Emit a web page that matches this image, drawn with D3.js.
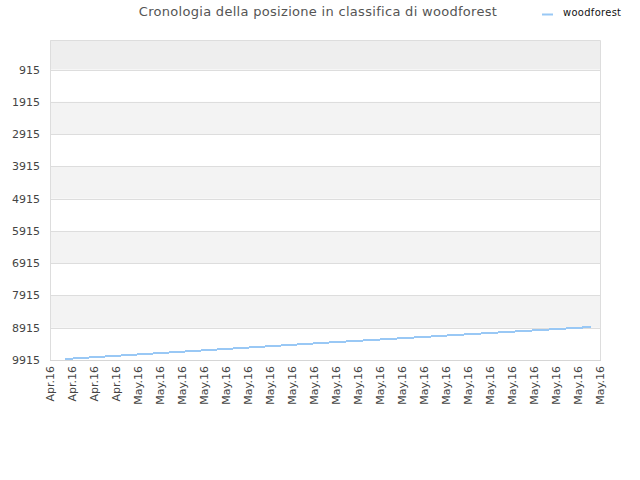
<!DOCTYPE html>
<html><head><meta charset="utf-8">
<script src="https://cdn.jsdelivr.net/npm/d3@7"></script>
<style>
body{margin:0;background:#fff;}
svg{display:block;font-family:"DejaVu Sans",sans-serif;}
</style></head>
<body><svg id="c" width="640" height="480"></svg>
<script>
const title = "Cronologia della posizione in classifica di woodforest";
const seriesName = "woodforest";
const xTickLabels = ["Apr.16","Apr.16","Apr.16","Apr.16",
  "May.16","May.16","May.16","May.16","May.16","May.16","May.16","May.16","May.16","May.16","May.16",
  "May.16","May.16","May.16","May.16","May.16","May.16","May.16","May.16","May.16","May.16","May.16"];
const yTickValues = [915,1915,2915,3915,4915,5915,6915,7915,8915,9915];
// series: position along the x axis (in tick intervals) and rank
const pointX = [0.68, 12.32, 24.59];
const pointRank = [9884, 9388, 8893];

const svg = d3.select("#c");
const L = 50, R = 600, T = 40, B = 360;
const x = d3.scaleLinear().domain([0, xTickLabels.length - 1]).range([L, R]);
const y = d3.scaleLinear().domain([1, 9915]).range([T, B]);

// bands
const bandEdges = [1].concat(yTickValues);
for (let i = 0; i < bandEdges.length - 1; i++) {
  let fill = null;
  if (i === 0) fill = "#eeeeee";
  else if (i % 2 === 0) fill = "#f3f3f3";
  if (fill) svg.append("rect").attr("x", L).attr("width", R - L)
    .attr("y", y(bandEdges[i])).attr("height", y(bandEdges[i + 1]) - y(bandEdges[i]))
    .attr("fill", fill);
}
// gridlines
svg.append("g").selectAll("line").data(yTickValues).join("line")
  .attr("x1", L).attr("x2", R)
  .attr("y1", d => Math.round(y(d)) + 0.5).attr("y2", d => Math.round(y(d)) + 0.5)
  .attr("stroke", "#dddddd").attr("stroke-width", 1);
// border
svg.append("path").attr("d", `M${L+0.5},${B}V${T+0.5}H${R+0.5}V${B}`)
  .attr("fill", "none").attr("stroke", "#dddddd");

// y axis
const yAxis = d3.axisLeft(y).tickValues(yTickValues).tickSize(0).tickPadding(10).tickFormat(d3.format("d"));
const gy = svg.append("g").attr("transform", `translate(${L},0)`).call(yAxis);
gy.select(".domain").remove();
gy.selectAll("text").attr("font-size", 11).attr("fill", "#444").attr("font-family", "DejaVu Sans, sans-serif");

// x axis
const xAxis = d3.axisBottom(x).tickValues(d3.range(xTickLabels.length)).tickSize(0)
  .tickFormat(i => xTickLabels[i]);
const gx = svg.append("g").attr("transform", `translate(0,${B})`).call(xAxis);
gx.select(".domain").attr("stroke", "#d6d6d6").attr("d", `M${L},0.5H${R+1}`);
gx.selectAll("text").attr("font-size", 11).attr("fill", "#444")
  .attr("font-family", "DejaVu Sans, sans-serif")
  .attr("transform", "rotate(-90)").attr("text-anchor", "end")
  .attr("x", -6).attr("y", 0).attr("dy", "0.35em");

// line
const pts = pointX.map((v, i) => [v, pointRank[i]]);
svg.append("path").datum(pts)
  .attr("d", d3.line().x(d => x(d[0])).y(d => y(d[1])))
  .attr("fill", "none").attr("stroke", "#99c8f5").attr("stroke-width", 2)
  .attr("shape-rendering", "crispEdges");

// title
svg.append("text").attr("x", 318).attr("y", 16).attr("text-anchor", "middle")
  .attr("font-size", 13).attr("fill", "#555").attr("letter-spacing", "0.3px").text(title);
// legend
svg.append("line").attr("x1", 542).attr("x2", 553).attr("y1", 14.5).attr("y2", 14.5)
  .attr("stroke", "#99c8f5").attr("stroke-width", 2);
svg.append("text").attr("x", 563).attr("y", 16).attr("font-size", 11).attr("fill", "#111")
  .attr("font-family", "DejaVu Sans Condensed, sans-serif").attr("textLength", 58)
  .text(seriesName);
</script></body></html>
